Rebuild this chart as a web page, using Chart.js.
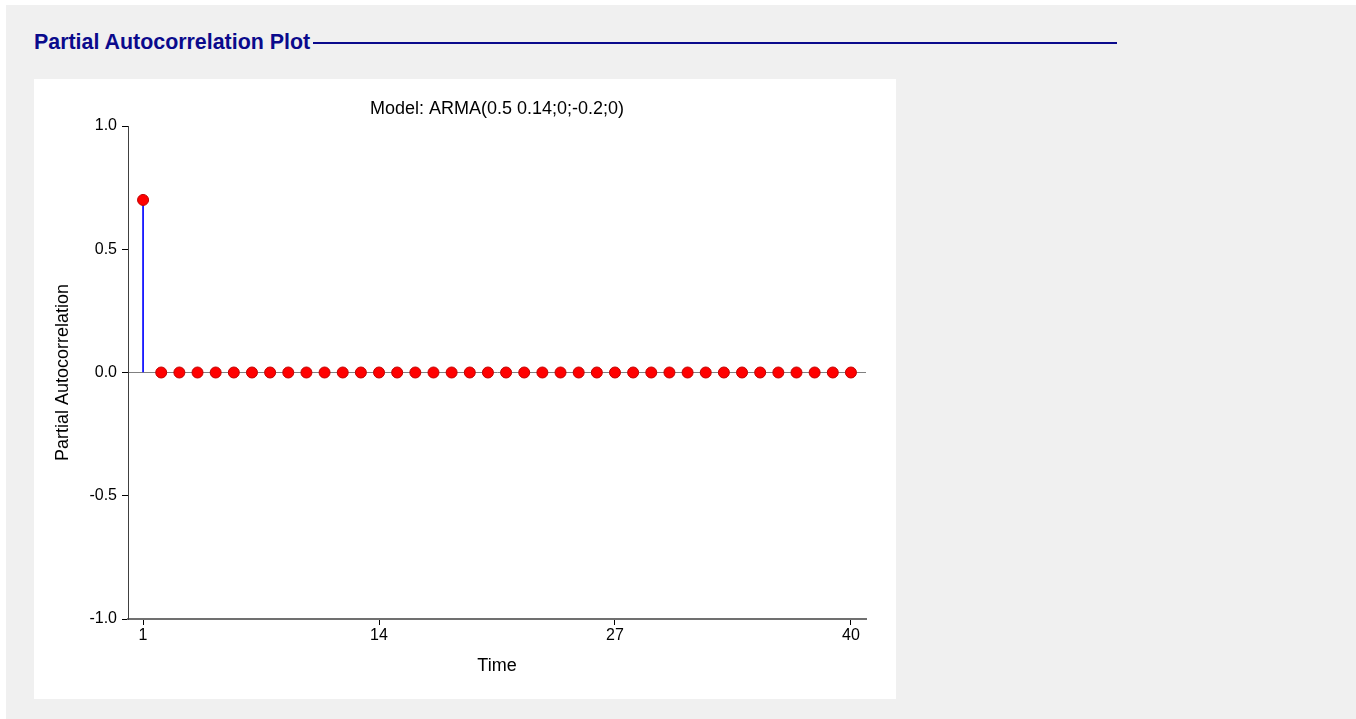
<!DOCTYPE html>
<html>
<head>
<meta charset="utf-8">
<script src="https://cdn.jsdelivr.net/npm/chart.js@4.4.1/dist/chart.umd.min.js"></script>
<style>
  html, body { margin: 0; padding: 0; background: #ffffff; width: 1356px; height: 719px; overflow: hidden; }
  #panel { position: absolute; left: 6px; top: 5px; width: 1350px; height: 714px; background: #f0f0f0; }
  #hdr { position: absolute; left: 34px; top: 30px; font-family: "Liberation Sans", Arial, sans-serif; font-weight: bold; font-size: 21.4px; color: #0a0a8c; white-space: nowrap; line-height: 24px; }
  #hline { position: absolute; left: 313px; top: 42px; width: 804px; height: 2px; background: #0a0a8c; }
  #box { position: absolute; left: 34px; top: 79px; width: 862px; height: 620px; background: #ffffff; }
  #c { display: block; }
</style>
</head>
<body>
<div id="panel"></div>
<div id="hdr">Partial Autocorrelation Plot</div>
<div id="hline"></div>
<div id="box"><canvas id="c" width="862" height="620"></canvas></div>
<script>
const chartTitle = "Model: ARMA(0.5 0.14;0;-0.2;0)";
const xTitle = "Time";
const yTitle = "Partial Autocorrelation";
const lags = [1,2,3,4,5,6,7,8,9,10,11,12,13,14,15,16,17,18,19,20,21,22,23,24,25,26,27,28,29,30,31,32,33,34,35,36,37,38,39,40];
const pacf = [0.7,0,0,0,0,0,0,0,0,0,0,0,0,0,0,0,0,0,0,0,0,0,0,0,0,0,0,0,0,0,0,0,0,0,0,0,0,0,0,0];
const xTicks = [1, 14, 27, 40];
const yTicks = [-1.0, -0.5, 0.0, 0.5, 1.0];

const pts = lags.map((l, i) => ({x: l, y: pacf[i]}));
const stems = lags.map((l, i) => ({x: l, y: [0, pacf[i]]}));

const FONT = "'Liberation Sans', Arial, sans-serif";

const titlePlugin = {
  id: 'plotTitle',
  afterDraw(chart) {
    const ctx = chart.ctx;
    const a = chart.chartArea;
    ctx.save();
    ctx.font = "18px " + FONT;
    ctx.fillStyle = '#000';
    ctx.textAlign = 'center';
    ctx.textBaseline = 'alphabetic';
    ctx.fillText(chartTitle, (a.left + a.right) / 2, 35);
    ctx.restore();
  }
};

new Chart(document.getElementById('c'), {
  type: 'scatter',
  data: {
    datasets: [
      {
        type: 'bar',
        data: stems,
        backgroundColor: '#0000ff',
        borderWidth: 0,
        barThickness: 1,
        order: 2
      },
      {
        type: 'scatter',
        data: pts,
        pointRadius: 5.5,
        pointBackgroundColor: '#ff0000',
        pointBorderColor: '#c00000',
        pointBorderWidth: 1,
        order: 1
      }
    ]
  },
  plugins: [titlePlugin],
  options: {
    responsive: false,
    animation: false,
    events: [],
    layout: { padding: { left: 0, right: 30, top: 47, bottom: 0 } },
    plugins: {
      legend: { display: false },
      tooltip: { enabled: false },
      title: { display: false }
    },
    scales: {
      x: {
        type: 'linear',
        offset: false,
        min: 0.17,
        max: 40.83,
        afterBuildTicks: (s) => { s.ticks = xTicks.map(v => ({value: v})); },
        afterFit: (s) => { s.height = 80; },
        ticks: {
          color: '#000',
          font: { family: FONT, size: 16 },
          padding: 1,
          maxRotation: 0,
          autoSkip: false
        },
        grid: {
          offset: false,
          drawOnChartArea: false,
          drawTicks: true,
          tickLength: 6,
          tickColor: '#000',
          tickWidth: 1
        },
        border: { display: true, color: '#707070', width: 2 },
        title: {
          display: true,
          text: xTitle,
          color: '#000',
          font: { family: FONT, size: 18, lineHeight: 1.2 },
          padding: { top: 0, bottom: 22 }
        }
      },
      y: {
        type: 'linear',
        min: -1,
        max: 1,
        afterBuildTicks: (s) => { s.ticks = yTicks.map(v => ({value: v})); },
        afterFit: (s) => { s.width = 94; },
        ticks: {
          color: '#000',
          font: { family: FONT, size: 16 },
          padding: 5,
          callback: (v) => Number(v).toFixed(1)
        },
        grid: {
          drawOnChartArea: true,
          drawTicks: true,
          tickLength: 6,
          tickColor: '#000',
          color: (ctx) => (ctx.tick && ctx.tick.value === 0) ? '#808080' : 'rgba(0,0,0,0)',
          lineWidth: 1
        },
        border: { display: true, color: '#404040', width: 1 },
        title: {
          display: true,
          text: yTitle,
          color: '#000',
          font: { family: FONT, size: 18, lineHeight: 1.2 },
          padding: { top: 18, bottom: 0 }
        }
      }
    }
  }
});
</script>
</body>
</html>
